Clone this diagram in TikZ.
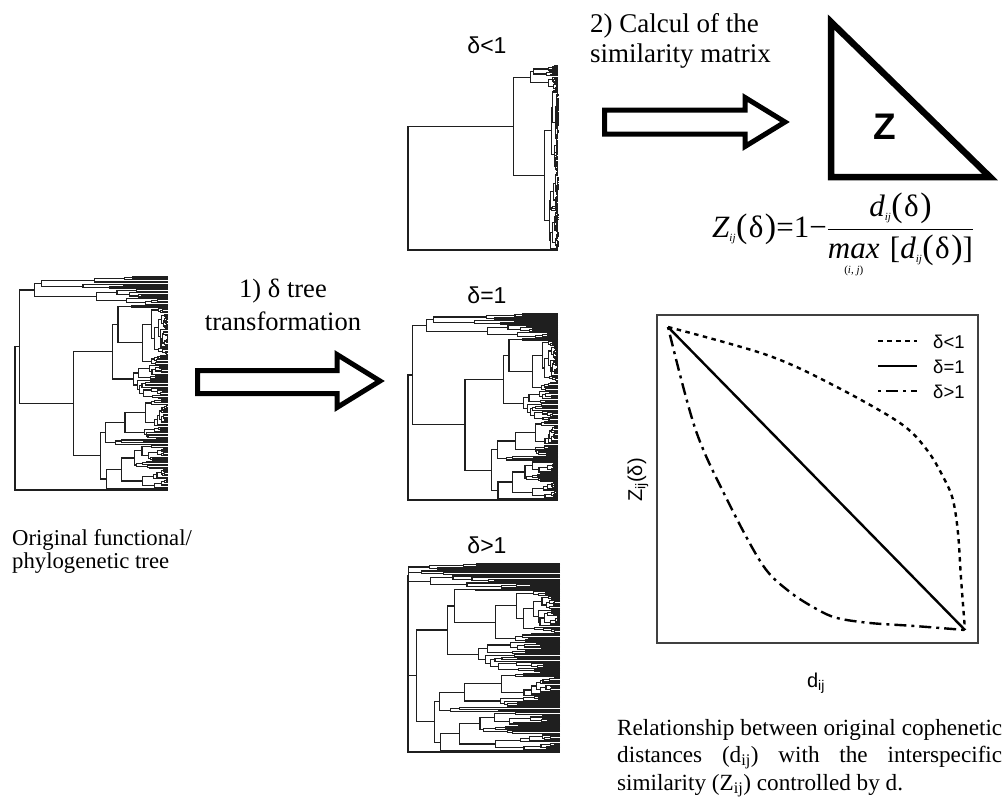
\RequirePackage{fix-cm}
\documentclass[tikz,border=0pt]{standalone}
\usepackage{amsmath}
\usepackage{fontspec}
\setmainfont{Liberation Serif}
\setsansfont{Liberation Sans}

\tikzset{
  txt/.style={inner sep=0pt, font=\fontsize{#1}{#1}\selectfont},
  sanstxt/.style={inner sep=0pt, font=\sffamily\fontsize{#1}{#1}\selectfont},
  treeline/.style={line width=1.15pt, black!88},
  blockarrow/.style={line width=5pt, line join=miter, black},
  matrixtri/.style={line width=6.5pt, line join=miter, black},
  plotframe/.style={line width=1.3pt, black!75},
  curvesolid/.style={line width=2.4pt, black},
  curvedot/.style={line width=2.4pt, black, dash pattern=on 4.5pt off 4.5pt},
  curvedashdot/.style={line width=2.4pt, black, dash pattern=on 3pt off 5pt on 12pt off 5pt},
}

% recursive dendrogram: leaves #1..#2-1, node height #3 (0 = tips, 1 = root)
\newcommand\treeclade[3]{%
  \begingroup
  \pgfmathtruncatemacro\tn{#2-#1}%
  \ifnum\tn=1
    \xdef\treeret{#1}%
  \else
    \pgfmathsetmacro\tr{frac(abs(sin(#1*37.3+#2*61.9+3.1)*97.17))}%
    \pgfmathtruncatemacro\ts{#1+1+floor(\tr*(\tn-1))}%
    \pgfmathsetmacro\tra{frac(abs(sin(#1*53.1+\ts*29.3+11)*89.3))}%
    \pgfmathsetmacro\trb{frac(abs(sin(\ts*41.7+#2*23.9+7)*83.1))}%
    \pgfmathsetmacro\ha{#3*(0.5+0.45*\tra)}%
    \pgfmathsetmacro\hb{#3*(0.5+0.45*\trb)}%
    \ifnum\numexpr\ts-#1\relax=1 \def\ha{0}\fi
    \ifnum\numexpr#2-\ts\relax=1 \def\hb{0}\fi
    \edef\tnext{\noexpand\treeclade{#1}{\ts}{\ha}}\tnext
    \let\ya\treeret
    \edef\tnext{\noexpand\treeclade{\ts}{#2}{\hb}}\tnext
    \let\yb\treeret
    \pgfmathsetmacro\xn{(1-#3)^\tdelta}%
    \pgfmathsetmacro\xa{(1-\ha)^\tdelta}%
    \pgfmathsetmacro\xb{(1-\hb)^\tdelta}%
    \draw[treeline] (\xa,\ya) -- (\xn,\ya) -- (\xn,\yb) -- (\xb,\yb);
    \pgfmathsetmacro\ym{(\ya+\yb)/2}%
    \xdef\treeret{\ym}%
  \fi
  \endgroup}

% whole tree: 150 leaves, root splits into a large clade and one leaf
\newcommand\wholetree{%
  \treeclade{0}{149}{0.97}%
  \let\yA\treeret
  \pgfmathsetmacro\xA{(0.03)^\tdelta}%
  \draw[treeline] (\xA,\yA) -- (0,\yA) -- (0,149) -- (1,149);
}

\newcommand\sbij{\text{\fontsize{11}{11}\selectfont\itshape ij}}
\newcommand\pardelta{\text{\fontsize{34}{34}\selectfont(\hspace{1.5pt}{\fontsize{31}{31}\selectfont δ}\hspace{1.5pt})}}

\begin{document}
\begin{tikzpicture}[x=1pt, y=-1pt]
\useasboundingbox (0,0) rectangle (1002,803);

% ---------- trees ----------
\begin{scope}[shift={(15pt,-277pt)}, x=153pt, y=-1.4295pt]
  \def\tdelta{1}\wholetree
\end{scope}
\begin{scope}[shift={(408pt,-66pt)}, x=150pt, y=-1.2349pt]
  \def\tdelta{0.1}\wholetree
\end{scope}
\begin{scope}[shift={(408pt,-314pt)}, x=150pt, y=-1.2483pt]
  \def\tdelta{1}\wholetree
\end{scope}
\begin{scope}[shift={(408pt,-564pt)}, x=152pt, y=-1.2617pt]
  \def\tdelta{3}\wholetree
\end{scope}

% ---------- tree labels ----------
\node[sanstxt=23, anchor=base] (lblless) at (487,53) {δ<1};
\node[sanstxt=23, anchor=base] (lbleq) at (487,303) {δ=1};
\node[sanstxt=23, anchor=base] (lblmore) at (487,553) {δ>1};

\node[txt=22.7, anchor=base west] (orig1) at (12,545) {Original functional/};
\node[txt=22.7, anchor=base west] (orig2) at (12,568) {phylogenetic tree};

% ---------- step 1 ----------
\node[txt=26.5, anchor=base] (step1a) at (283,297) {1) δ tree};
\node[txt=26.5, anchor=base] (step1b) at (283,330) {transformation};
\draw[blockarrow] (197.5,370.5) -- (337,370.5) -- (337,354.5) -- (380,381)
  -- (337,407.5) -- (337,393.5) -- (197.5,393.5) -- cycle;

% ---------- step 2 ----------
\node[txt=27, anchor=base west] (step2a) at (590,32) {2) Calcul of the};
\node[txt=27, anchor=base west] (step2b) at (590,62) {similarity matrix};
\draw[blockarrow] (604.5,110) -- (745,110) -- (745,97.5) -- (785,122)
  -- (745,146.5) -- (745,134) -- (604.5,134) -- cycle;

\draw[matrixtri] (831,22) -- (831,177) -- (990,177) -- cycle;
\node[inner sep=0pt, font=\sffamily\bfseries\fontsize{37}{37}\selectfont] (zmat) at (885,127) {Z};

\node[txt=31, anchor=base west] (formula) at (712,237)
  {$\displaystyle \mathit{Z}_{\sbij}\pardelta\mathord{\text{=}}\mathord{\text{1}}\mathord{\text{−}}\frac{\mathit{d}_{\sbij}\pardelta}
   {\mathop{\text{\itshape max}}\limits_{\text{\fontsize{11}{11}\selectfont (\textit{i}, \textit{j})}}\text{\,[}\mathit{d}_{\sbij}\pardelta\text{]}}$};

% ---------- plot ----------
\draw[plotframe] (657,315) rectangle (978,643);
\coordinate (pa) at (668,327);
\coordinate (pb) at (965,630);
\draw[curvesolid] (pa) -- (pb);
\draw[curvedot] plot[smooth, tension=0.55] coordinates {(668,327) (767,355) (833,385) (900,423)
  (927,450) (944,478.5) (953,500) (958,533) (961,578) (965,630)};
\draw[curvedashdot] plot[smooth, tension=0.55] coordinates {(668,327) (695,428) (725,495.5)
  (762,564) (788.6,591) (816.5,609) (837,618) (870,623) (914.5,626) (965,630)};

% legend
\draw[curvedot] (878,341) -- (917,341);
\draw[curvesolid] (878,366) -- (917,366);
\draw[curvedashdot] (878,391) -- (917,391);
\node[sanstxt=18.5, anchor=base west] (leg1) at (933,348) {δ<1};
\node[sanstxt=18.5, anchor=base west] (leg2) at (933,373) {δ=1};
\node[sanstxt=18.5, anchor=base west] (leg3) at (933,398) {δ>1};

\node[sanstxt=20, rotate=90] (ylab) at (638,480) {Z\textsubscript{ij}(δ)};
\node[sanstxt=20, anchor=base] (xlab) at (816,687) {d\textsubscript{ij}};

% caption
\node[txt=23.2, anchor=base west] (cap1) at (617,735)
  {\makebox[385pt][s]{Relationship between original cophenetic}};
\node[txt=23.2, anchor=base west] (cap2) at (617,762)
  {\makebox[385pt][s]{distances (d\textsubscript{ij}) with the interspecific}};
\node[txt=23.2, anchor=base west] (cap3) at (617,790)
  {similarity (Z\textsubscript{ij}) controlled by d.};
\end{tikzpicture}
\end{document}
